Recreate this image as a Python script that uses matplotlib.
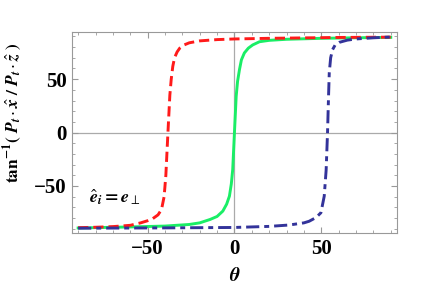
import matplotlib
matplotlib.use("Agg")
import matplotlib.pyplot as plt
from matplotlib.ticker import MultipleLocator

plt.rcParams['font.family'] = 'Liberation Serif'
plt.rcParams['mathtext.fontset'] = 'stix'
plt.rcParams['axes.unicode_minus'] = True

# red dashed curve
theta_red = [-90, -80, -70, -60, -54, -50, -47, -44, -42, -40.5, -39.5, -38.3, -37.2,
             -36.4, -35.5, -34.5, -33, -31.5, -29, -26, -20, -10, 0, 20, 40, 60, 90]
y_red = [-89, -88.6, -88, -86.8, -84.5, -82.5, -80.5, -77, -72, -60, -40, 0, 35,
         50, 62, 70, 75.5, 79, 82, 84, 85.8, 87, 87.6, 88.2, 88.6, 89, 89.3]

# green solid curve
theta_green = [-90, -60, -40, -26, -20, -14, -10, -6.7, -4.5, -2.9, -1.8, -1, 0,
               1, 1.8, 2.9, 4, 5.7, 8, 10.5, 14.4, 20, 30, 50, 70, 90]
y_green = [-89.3, -88.3, -87.5, -86, -84.5, -81.3, -78.5, -73.5, -67, -59.5, -48, -34.6, 0,
           34, 48, 59, 68, 74.5, 79, 82, 85, 86.3, 87.3, 88.2, 88.7, 89.1]

# blue dash-dot curve
theta_blue = [-90, -40, 0, 20, 31.6, 40, 43, 47, 49.8, 51.7, 52.8, 53.6, 54.2,
              54.6, 55.4, 56.5, 58, 60.3, 65, 70, 80, 90]
y_blue = [-89.5, -89.2, -88.8, -87.8, -86.5, -84.5, -83, -79.5, -75, -59.5, -35, 0, 35,
          56, 70, 77.6, 82, 84.4, 86.5, 87.6, 88.7, 89.4]

fig = plt.figure(figsize=(4.29, 2.92), dpi=100)
ax = fig.add_axes([0.168, 0.202, 0.757, 0.688])

ax.axhline(0, color='#aaaaaa', lw=0.9, zorder=1)
ax.axvline(0, color='#aaaaaa', lw=0.9, zorder=1)

ax.plot(theta_red, y_red, color='#ff1a1a', lw=2.1, dashes=(3.5, 1.7), zorder=3)
ax.plot(theta_green, y_green, color='#1aee66', lw=2.1, zorder=2)
ax.plot(theta_blue, y_blue, color='#33339a', lw=2.1, dashes=(4.5, 1.7, 1.7, 1.7), zorder=3)

ax.set_xlim(-93.5, 93.5)
ax.set_ylim(-94, 94)
ax.xaxis.set_major_locator(MultipleLocator(50))
ax.xaxis.set_minor_locator(MultipleLocator(10))
ax.yaxis.set_major_locator(MultipleLocator(50))
ax.yaxis.set_minor_locator(MultipleLocator(10))

for s in ax.spines.values():
    s.set_color('#999999')
    s.set_linewidth(0.8)
ax.tick_params(which='both', direction='in', top=True, right=True, color='#999999')
ax.tick_params(which='major', length=4, width=0.8, labelsize=15, pad=4)
ax.tick_params(which='minor', length=2, width=0.6)
for lab in ax.get_xticklabels() + ax.get_yticklabels():
    lab.set_fontweight('bold')

ax.set_xlabel(r'$\mathbfit{\theta}$', fontsize=14, labelpad=6)
ax.set_ylabel(r'$\mathbf{tan}^{\mathbf{-1}}\mathbf{(}\ \mathbfit{P}_{\mathbfit{t}}\cdot\hat{\mathbfit{x}}\ \mathbf{/}\ \mathbfit{P}_{\mathbfit{t}}\cdot\hat{\mathbfit{z}}\ \mathbf{)}$',
              fontsize=12.5)
ax.yaxis.set_label_coords(-0.145, 0.6)

ax.text(-84, -60, r'$\hat{\mathbfit{e}}_{\mathbfit{i}}\mathbf{=}\mathbfit{e}_{\perp}$', fontsize=13,
        ha='left', va='center')

fig.savefig('out.png', dpi=100)
